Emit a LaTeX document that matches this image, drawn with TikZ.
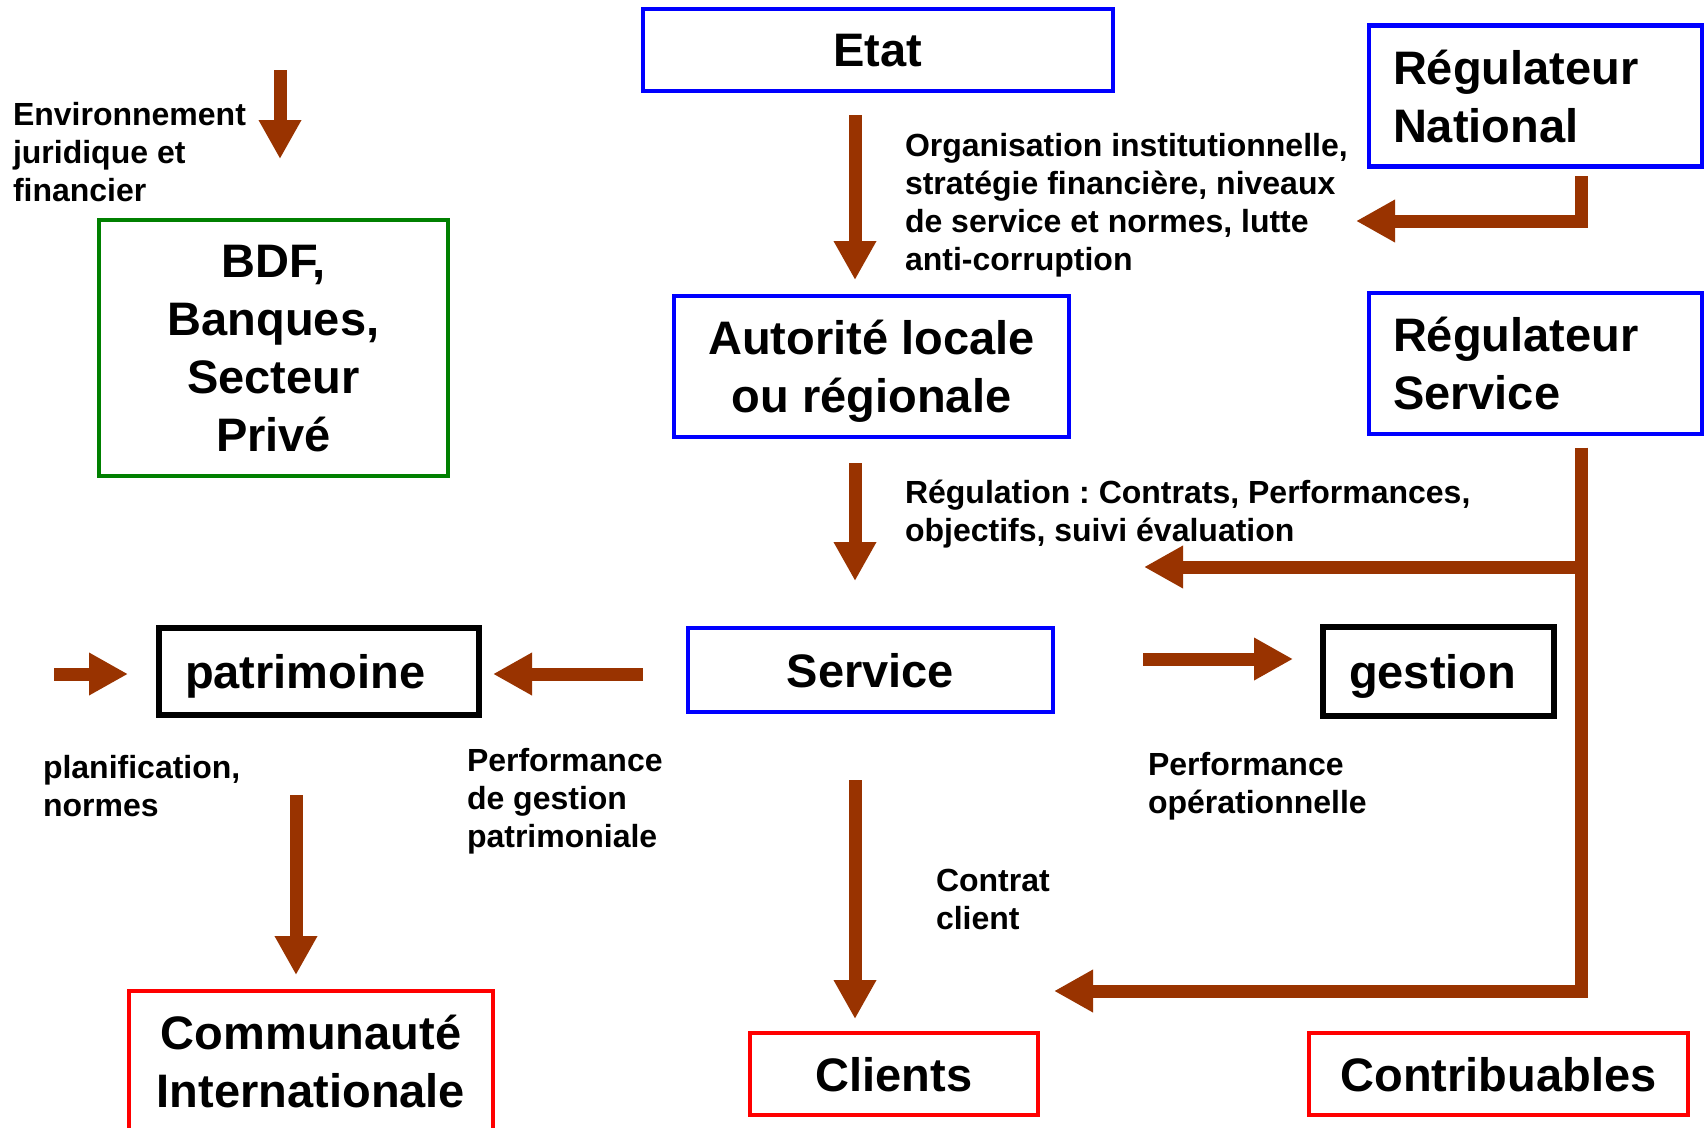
\documentclass[tikz,border=0pt]{standalone}
\usepackage{fontspec}
\setmainfont{Liberation Sans}
\usetikzlibrary{arrows.meta}
\definecolor{arrowbrown}{HTML}{993300}
\definecolor{boxblue}{HTML}{0000FF}
\definecolor{boxgreen}{HTML}{008000}
\definecolor{boxred}{HTML}{FF0000}
\frenchspacing
\begin{document}
\begin{tikzpicture}[x=1pt,y=-1pt,
  every node/.style={text depth=0pt, outer sep=0pt},
  bigfont/.style={font=\fontsize{47}{58}\selectfont\bfseries},
  lbl/.style={font=\fontsize{32}{38}\selectfont\bfseries, inner sep=0pt, align=left, anchor=west},
  bluebox/.style={draw=boxblue, line width=4.5pt, bigfont, align=center, inner sep=0pt},
  greenbox/.style={draw=boxgreen, line width=4pt, bigfont, align=center, inner sep=0pt},
  redbox/.style={draw=boxred, line width=3.5pt, bigfont, align=center, inner sep=0pt},
  blackbox/.style={draw=black, line width=6.5pt, bigfont, align=left, inner ysep=0pt, inner xsep=26pt},
  regbox/.style={bluebox, text depth={}, align=left, inner xsep=24pt, text width=285pt, minimum width=333pt, minimum height=141pt},
  arr/.style={draw=arrowbrown, line width=13pt, line join=miter, -{Triangle[width=40pt,length=39pt]}},
]
\clip (0,0) rectangle (1704,1127);
\fill[white] (0,0) rectangle (1704,1127);

% boxes
\node[bluebox, minimum width=470pt, minimum height=82pt] (etat) at (878,50) {Etat};
\node[regbox] (regnat) at (1535.5,96) {Régulateur\\National};
\node[regbox] (regserv) at (1535.5,363.5) {Régulateur\\Service};
\node[bluebox, minimum width=395pt, minimum height=141pt] (autorite) at (871.5,366.5) {Autorité locale\\ou régionale};
\node[greenbox, minimum width=349pt, minimum height=256pt] (bdf) at (273.5,348) {BDF,\\Banques,\\Secteur\\Privé};
\node[bluebox, minimum width=365pt, minimum height=84pt] (service) at (870.5,670) {Service};
\node[blackbox, text width=268pt, minimum width=320pt, minimum height=87pt] (patri) at (319,671.5) {patrimoine};
\node[blackbox, text width=179pt, minimum width=231pt, minimum height=89pt] (gestion) at (1438.5,671.5) {gestion};
\node[redbox, minimum width=364pt, minimum height=141pt] (commu) at (311,1061.5) {Communauté\\Internationale};
\node[redbox, minimum width=288pt, minimum height=82pt] (clients) at (894,1074) {Clients};
\node[redbox, minimum width=379pt, minimum height=82pt] (contrib) at (1498.5,1074) {Contribuables};

% labels
\node[lbl] (env) at (13,152) {Environnement\\juridique et\\financier};
\node[lbl] (org) at (905,202) {Organisation institutionnelle,\\stratégie financière, niveaux\\de service et normes, lutte\\anti-corruption};
\node[lbl] (regul) at (905,511) {Régulation : Contrats, Performances,\\objectifs, suivi évaluation};
\node[lbl] (perfpat) at (467,798) {Performance\\de gestion\\patrimoniale};
\node[lbl] (planif) at (43,786) {planification,\\normes};
\node[lbl] (perfop) at (1148,783) {Performance\\opérationnelle};
\node[lbl] (contrat) at (936,899.5) {Contrat\\client};

% helper coordinates
\coordinate (cx) at (855,0);
\coordinate (px) at (296,0);
\coordinate (tx) at (1581,0);
\coordinate (rowp) at (0,674);
\coordinate (rowg) at (0,659);
\coordinate (envtop) at (280,70);
\coordinate (envtip) at (280,159);
\coordinate (leftin) at (54,674);
\coordinate (nattip) at (1356,221);
\coordinate (branchstart) at (1581,567);
\coordinate (branchtip) at (1144,567);
\coordinate (bottomtip) at (1054,991);

% arrows
\draw[arr] (envtop) -- (envtip);
\draw[arr, shorten <=24pt, shorten >=16pt] (etat.south -| cx) -- (autorite.north -| cx);
\draw[arr, shorten <=26pt, shorten >=47pt] (autorite.south -| cx) -- (service.north -| cx);
\draw[arr, shorten <=68pt, shorten >=14pt] (service.south -| cx) -- (clients.north -| cx);
\draw[arr, shorten <=80pt, shorten >=16pt] (patri.south -| px) -- (commu.north -| px);
\draw[arr, shorten <=45pt, shorten >=14pt] (service.west |- rowp) -- (patri.east |- rowp);
\draw[arr, shorten >=31pt] (leftin) -- (patri.west |- rowp);
\draw[arr, shorten <=90pt, shorten >=30pt] (service.east |- rowg) -- (gestion.west |- rowg);
\draw[arr, shorten <=9.5pt] (regnat.south -| tx) |- (nattip);
\draw[arr, shorten <=13.5pt] (regserv.south -| tx) |- (bottomtip);
\draw[arr] (branchstart) -- (branchtip);
\end{tikzpicture}
\end{document}
